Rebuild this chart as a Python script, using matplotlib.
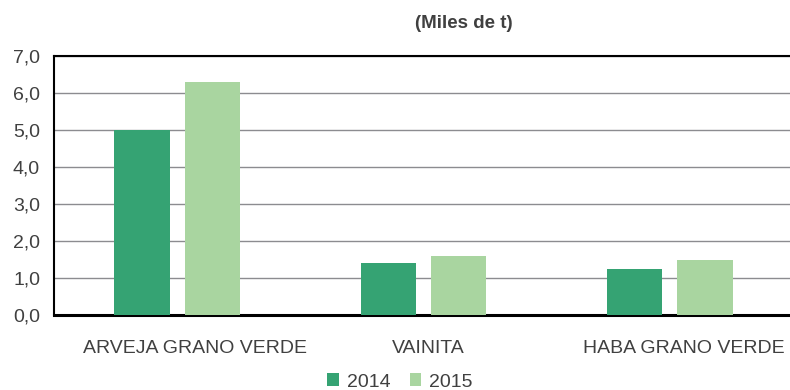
import matplotlib
matplotlib.use("Agg")
import matplotlib.pyplot as plt
import matplotlib.transforms as mtransforms
import numpy as np
from matplotlib.ticker import FuncFormatter

categories = ["ARVEJA GRANO VERDE", "VAINITA", "HABA GRANO VERDE"]
years = ["2014", "2015"]
values_2014 = [5.0, 1.4, 1.23]
values_2015 = [6.3, 1.6, 1.5]

plt.rcParams["font.family"] = ["Liberation Sans", "DejaVu Sans"]
text_color = "#404040"
colors = ["#35A373", "#A9D5A0"]

fig = plt.figure(figsize=(7.9, 3.9), dpi=100)
ax = fig.add_axes([54 / 790, 1 - 315 / 390, 736 / 790, 259 / 390])

x = np.arange(len(categories))
width = 0.225
offset = 0.143
ax.bar(x - offset, values_2014, width, color=colors[0], label=years[0], zorder=3)
ax.bar(x + offset, values_2015, width, color=colors[1], label=years[1], zorder=3)

ax.set_xlim(-0.5, 2.488)
ax.set_ylim(0, 7)
ax.set_yticks(np.arange(0, 7.01, 1))
ax.yaxis.set_major_formatter(FuncFormatter(lambda v, p: f"{v:.1f}".replace(".", ",")))
ax.grid(axis="y", color="#8c8c90", linewidth=1.0, zorder=0)
ax.set_xticks(x)
ax.set_xticklabels(categories)
ax.tick_params(axis="both", length=0, labelsize=14, labelcolor=text_color)
ax.tick_params(axis="x", pad=18)
ax.tick_params(axis="y", pad=10)

# nudge category labels slightly to the right (in points)
label_shift_pts = [12.5, 3.5, 10.0]
for lbl, dx in zip(ax.get_xticklabels(), label_shift_pts):
    lbl.set_transform(lbl.get_transform() +
                      mtransforms.ScaledTranslation(dx / 72, 0, fig.dpi_scale_trans))

for side in ["top", "left"]:
    ax.spines[side].set_color("black")
    ax.spines[side].set_linewidth(1.5)
ax.spines["bottom"].set_color("black")
ax.spines["bottom"].set_linewidth(2.2)
ax.spines["right"].set_visible(False)

fig.text(464 / 790, 1 - 23 / 390, "(Miles de t)", ha="center", va="center",
         fontsize=13.5, fontweight="bold", color=text_color)

fig.legend(loc="center", bbox_to_anchor=(400 / 790, 1 - 382 / 390), ncol=2,
           frameon=False, fontsize=14, handlelength=0.6, handleheight=0.6,
           handletextpad=0.4, columnspacing=1.0, labelcolor=text_color,
           borderpad=0)

fig.savefig("out.png", dpi=100)
